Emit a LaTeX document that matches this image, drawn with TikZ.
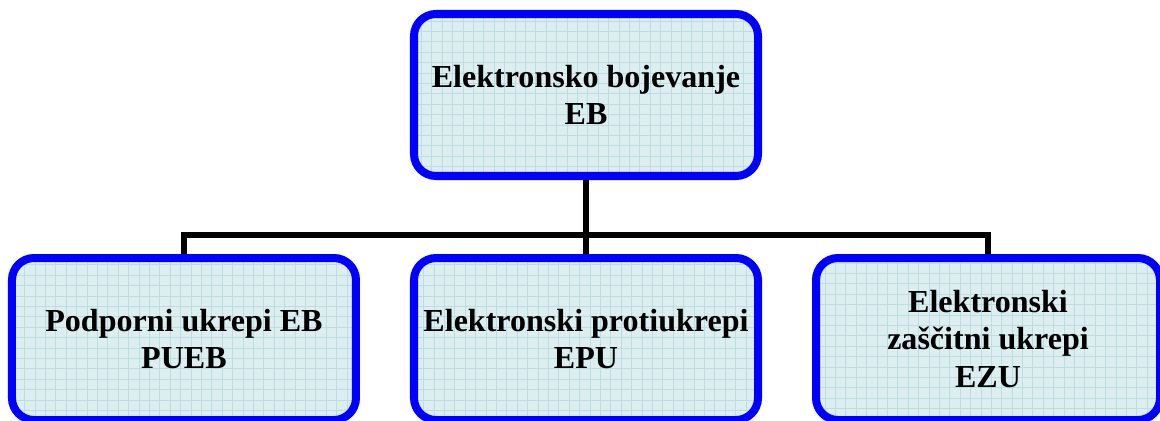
\documentclass[tikz,border=0pt]{standalone}
\usepackage{fontspec}
\setmainfont{Liberation Serif}
\usetikzlibrary{positioning}
\definecolor{boxfill}{RGB}{221,238,240}
\definecolor{gridcol}{RGB}{188,222,226}
\definecolor{boxline}{RGB}{0,0,255}

\begin{document}
\begin{tikzpicture}[
    ukrep/.style={draw=boxline, line width=5.7pt, fill=boxfill, rounded corners=0.55cm,
        minimum width=8.6cm, align=center, font=\fontsize{22.8}{26.8}\selectfont\bfseries,
        path picture={\draw[gridcol, line width=0.5pt] (path picture bounding box.south west) grid[step=0.26cm] (path picture bounding box.north east);}},
    vez/.style={line width=4.3pt}
]
    \useasboundingbox (0,0) rectangle (29,10.5);
    % Top box
    \node[ukrep, minimum height=4.05cm] (eb) at (14.65,8.125) {Elektronsko bojevanje\\EB};
    % Three branches below it
    \node[ukrep, minimum height=4.05cm, below=1.85cm of eb] (epu) {Elektronski protiukrepi\\EPU};
    \node[ukrep, minimum height=4.05cm, left=1.25cm of epu] (pueb) {Podporni ukrepi EB\\PUEB};
    \node[ukrep, minimum height=4.05cm, right=1.25cm of epu] (ezu) {Elektronski\\zaščitni ukrepi\\EZU};
    % Connectors
    \draw[vez] (eb.south) -- (epu.north);
    \draw[vez] (pueb.north) -- ++(0,0.475) -| (ezu.north);
\end{tikzpicture}
\end{document}
